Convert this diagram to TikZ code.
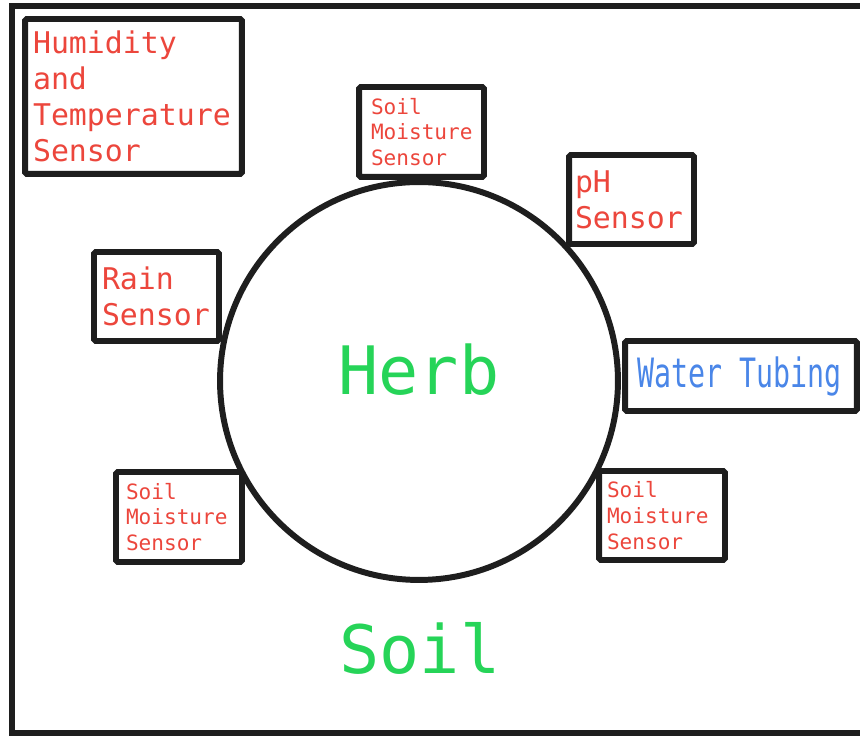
\documentclass[tikz,border=0pt]{standalone}
\usepackage{fontspec}
\setmonofont{DejaVu Sans Mono}
\definecolor{inkred}{RGB}{236,70,60}
\definecolor{inkgreen}{RGB}{38,212,88}
\definecolor{inkblue}{RGB}{74,134,232}
\definecolor{inkline}{RGB}{30,30,30}

\begin{document}
\begin{tikzpicture}[x=0.02cm, y=-0.02cm,
  frame/.style = {draw=inkline, line width=3.4pt},
  sensorbox/.style = {draw=inkline, fill=white, line width=3.4pt, rounded corners=1pt,
    inner sep=0pt, align=left, text=inkred, font=\ttfamily},
  bigsensor/.style = {sensorbox, font=\ttfamily\fontsize{17}{20.4}\selectfont},
  smallsensor/.style = {sensorbox, font=\ttfamily\fontsize{12}{14.7}\selectfont},
  bigword/.style = {text=inkgreen, font=\ttfamily\fontsize{38}{40}\selectfont}]
  \useasboundingbox (0,0) rectangle (860,736);
  \draw[frame] (880,6) -- (12,6) -- (12,733) -- (880,733);
  \node[draw=inkline, line width=3.4pt, circle, minimum size=7.96cm] (herb) at (419,381) {};
  \node[bigword] (herbname) at (419,370) {Herb};
  \node[bigword] (soil) at (420,648) {Soil};
  \node[bigsensor, minimum width=4.34cm, minimum height=3.1cm, text width=4.02cm] (humid) at (133.5,96.5) {Humidity\\and\\Temperature\\Sensor};
  \node[smallsensor, minimum width=2.5cm, minimum height=1.8cm, text width=2.02cm] (moisttop) at (421.5,132) {Soil\\Moisture\\Sensor};
  \node[bigsensor, minimum width=2.5cm, minimum height=1.78cm, text width=2.26cm] (ph) at (631.5,199.5) {pH\\Sensor};
  \node[bigsensor, minimum width=2.5cm, minimum height=1.78cm, text width=2.18cm] (rain) at (156.5,296.5) {Rain\\Sensor};
  \node[sensorbox, minimum width=4.64cm, minimum height=1.4cm, text width=4.16cm, text=inkblue] (water) at (741,376) {\scalebox{0.7}[1]{\fontsize{23}{26}\selectfont Water\hspace{0.6em}Tubing}};
  \node[smallsensor, minimum width=2.52cm, minimum height=1.8cm, text width=2.12cm] (moistleft) at (179,517) {Soil\\Moisture\\Sensor};
  \node[smallsensor, minimum width=2.52cm, minimum height=1.78cm, text width=2.2cm] (moistright) at (662,515.5) {Soil\\Moisture\\Sensor};
\end{tikzpicture}
\end{document}
